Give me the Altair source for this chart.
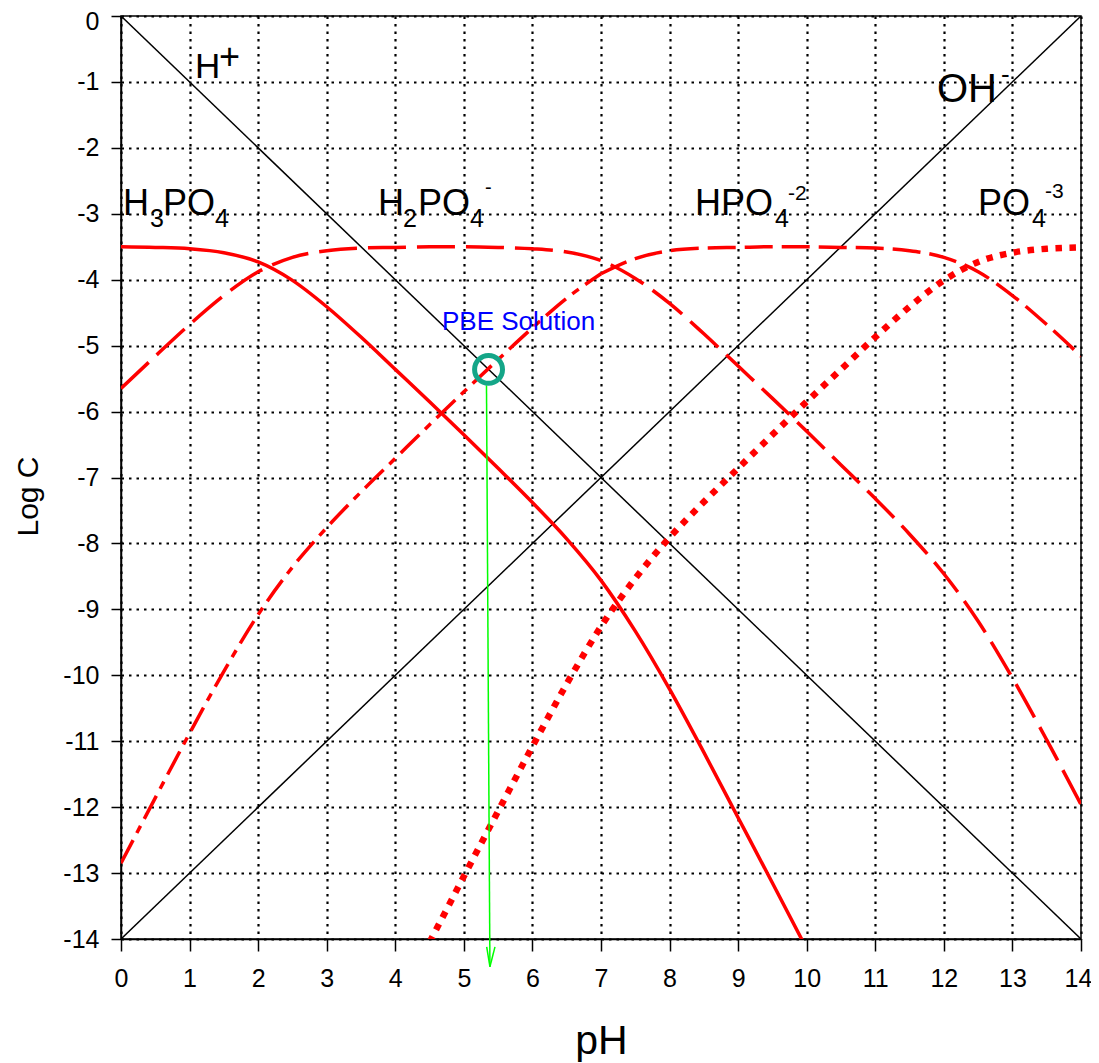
import altair as alt
import pandas as pd

# ---- data ----
ph_full = [0, 0.5, 1, 1.5, 2, 2.5, 3, 3.5, 4, 4.5, 5, 5.5, 6, 6.5, 7,
           7.5, 8, 8.5, 9, 9.5, 10, 10.5, 11, 11.5, 12, 12.5, 13, 13.5, 14]

ph_h3po4 = ph_full[:21]
h3po4 = [-3.50, -3.51, -3.53, -3.59, -3.73, -4.01, -4.41, -4.87, -5.36, -5.85,
         -6.35, -6.86, -7.38, -7.93, -8.56, -9.33, -10.21, -11.17, -12.16, -13.15, -14.15]

h2po4 = [-5.65, -5.16, -4.68, -4.24, -3.88, -3.66, -3.56, -3.52, -3.51, -3.50,
         -3.50, -3.51, -3.53, -3.58, -3.71, -3.98, -4.36, -4.82, -5.31, -5.80,
         -6.30, -6.81, -7.32, -7.86, -8.46, -9.18, -10.04, -10.98, -11.96]

hpo4 = [-12.85, -11.86, -10.88, -9.94, -9.08, -8.36, -7.76, -7.22, -6.71, -6.20,
        -5.70, -5.21, -4.73, -4.28, -3.91, -3.68, -3.56, -3.52, -3.51, -3.50,
        -3.50, -3.51, -3.52, -3.56, -3.66, -3.88, -4.24, -4.68, -5.16]

ph_po4 = ph_full[9:]
po4 = [-14.05, -13.05, -12.06, -11.08, -10.13, -9.26, -8.53, -7.91, -7.37, -6.86,
       -6.35, -5.85, -5.36, -4.87, -4.41, -4.01, -3.73, -3.59, -3.53, -3.51]

h_line_ph = [0, 14]
h_line = [0, -14]
oh_line = [-14, 0]

pbe_ph = [5.36]
pbe_logc = [-5.36]

arrow_x = [5.33, 5.38]
arrow_y = [-5.60, -14.42]
head_left_x = [5.333, 5.38]
head_left_y = [-14.12, -14.42]
head_right_x = [5.454, 5.38]
head_right_y = [-14.12, -14.42]

# label pieces: text, x, y (baseline), size, color
lab_text = ["H", "+", "OH", "-",
            "H", "3", "PO", "4",
            "H", "2", "PO", "4", "-",
            "HPO", "4", "-2",
            "PO", "4", "-3",
            "PBE Solution"]
lab_x = [1.079, 1.43, 11.90, 12.833,
         0.029, 0.423, 0.6125, 1.371,
         3.748, 4.113, 4.331, 5.090, 5.308,
         8.371, 9.538, 9.727,
         12.498, 13.286, 13.475,
         4.681]
lab_y = [-0.940, -0.804, -1.304, -1.016,
         -3.018, -3.200, -3.018, -3.200,
         -3.018, -3.200, -3.018, -3.200, -2.700,
         -3.018, -3.200, -2.791,
         -3.018, -3.200, -2.761,
         -4.763]
lab_size = [35, 36, 40, 26,
            36, 25, 36, 25,
            36, 25, 36, 25, 20,
            36, 25, 21,
            36, 25, 21,
            26]
lab_color = ["black"] * 19 + ["#0000FF"]

FONT = "Liberation Sans"

xs = alt.Scale(domain=[0, 14], nice=False, zero=False)
ys = alt.Scale(domain=[-14, 0], nice=False, zero=False)

x_axis = alt.Axis(values=list(range(0, 15)), title="pH", grid=True, labelFlush=False,
                  labelExpr="'' + datum.value",
                  labelOffset={"condition": {"test": "datum.value == 14", "value": -3}, "value": 0},
                  tickSize=12, labelPadding=15, titleY=114, titleBaseline="alphabetic",
                  titleFontSize=41)
y_axis = alt.Axis(values=list(range(-14, 1)), title="Log C", grid=True, labelFlush=False,
                  labelExpr="'' + datum.value",
                  labelOffset={"condition": {"test": "datum.value == 0", "value": 5}, "value": 0},
                  tickSize=10, labelPadding=12, titleX=-93, titleY=480,
                  titleAngle=-90, titleAlign="center", titleBaseline="middle",
                  titleFontSize=30)


def enc(xf="x", yf="y"):
    return dict(x=alt.X(f"{xf}:Q", scale=xs, axis=x_axis),
                y=alt.Y(f"{yf}:Q", scale=ys, axis=y_axis))


def line_layer(xv, yv, **kw):
    df = pd.DataFrame({"x": xv, "y": yv})
    return alt.Chart(df).mark_line(clip=True, **kw).encode(**enc())


h_layer = line_layer(h_line_ph, h_line, color="black", strokeWidth=1.5)
oh_layer = line_layer(h_line_ph, oh_line, color="black", strokeWidth=1.5)

h3_layer = line_layer(ph_h3po4, h3po4, color="#FF0000", strokeWidth=3.5, interpolate="monotone")
h2_layer = line_layer(ph_full, h2po4, color="#FF0000", strokeWidth=3.5,
                      interpolate="monotone", strokeDash=[38, 11])
# HPO4^2-: dash-dot look on the rising branch, plain dashes beyond
hp_layer_a = line_layer(ph_full[:15], hpo4[:15], color="#FF0000", strokeWidth=3.5,
                        interpolate="monotone", strokeDash=[26, 8, 8, 8])
hp_layer_b = line_layer(ph_full[14:], hpo4[14:], color="#FF0000", strokeWidth=3.5,
                        interpolate="monotone", strokeDash=[28, 9])
p_layer = line_layer(ph_po4, po4, color="#FF0000", strokeWidth=6.5,
                     interpolate="monotone", strokeDash=[6.5, 7.5], strokeCap="butt")

arrow_df = pd.DataFrame({"x": arrow_x, "y": arrow_y})
arrow = alt.Chart(arrow_df).mark_line(clip=False, color="#00FF00", strokeWidth=1.5).encode(**enc())
hl = alt.Chart(pd.DataFrame({"x": head_left_x, "y": head_left_y})).mark_line(
    clip=False, color="#00FF00", strokeWidth=1.5).encode(**enc())
hr = alt.Chart(pd.DataFrame({"x": head_right_x, "y": head_right_y})).mark_line(
    clip=False, color="#00FF00", strokeWidth=1.5).encode(**enc())

circle = alt.Chart(pd.DataFrame({"x": pbe_ph, "y": pbe_logc})).mark_point(
    shape="circle", size=780, filled=False, color="#14A688", strokeWidth=5, opacity=1
).encode(**enc())

lab_df = pd.DataFrame({"t": lab_text, "x": lab_x, "y": lab_y, "s": lab_size, "c": lab_color})
labels = alt.Chart(lab_df).mark_text(align="left", baseline="alphabetic", font=FONT).encode(
    **enc(),
    text="t:N",
    size=alt.Size("s:Q", scale=None, legend=None),
    color=alt.Color("c:N", scale=None, legend=None),
)

chart = alt.layer(
    h_layer, oh_layer, hp_layer_a, hp_layer_b, h2_layer, p_layer, h3_layer,
    arrow, hl, hr, circle, labels
).properties(
    width=960, height=923,
    autosize=alt.AutoSizeParams(type="none"),
    padding={"left": 113, "top": 8, "right": 10, "bottom": 124},
).configure_view(
    stroke="black", strokeWidth=1.5
).configure_axis(
    labelFont=FONT, labelFontSize=25, labelColor="black",
    titleFont=FONT, titleFontWeight="normal", titleColor="black",
    domainColor="black", domainWidth=1.5,
    tickColor="black", tickWidth=1.5,
    gridColor="black", gridWidth=2.2, gridDash=[2.5, 5], gridOpacity=1,
)

chart.save("out.html", embed_options={"renderer": "svg", "actions": False})
